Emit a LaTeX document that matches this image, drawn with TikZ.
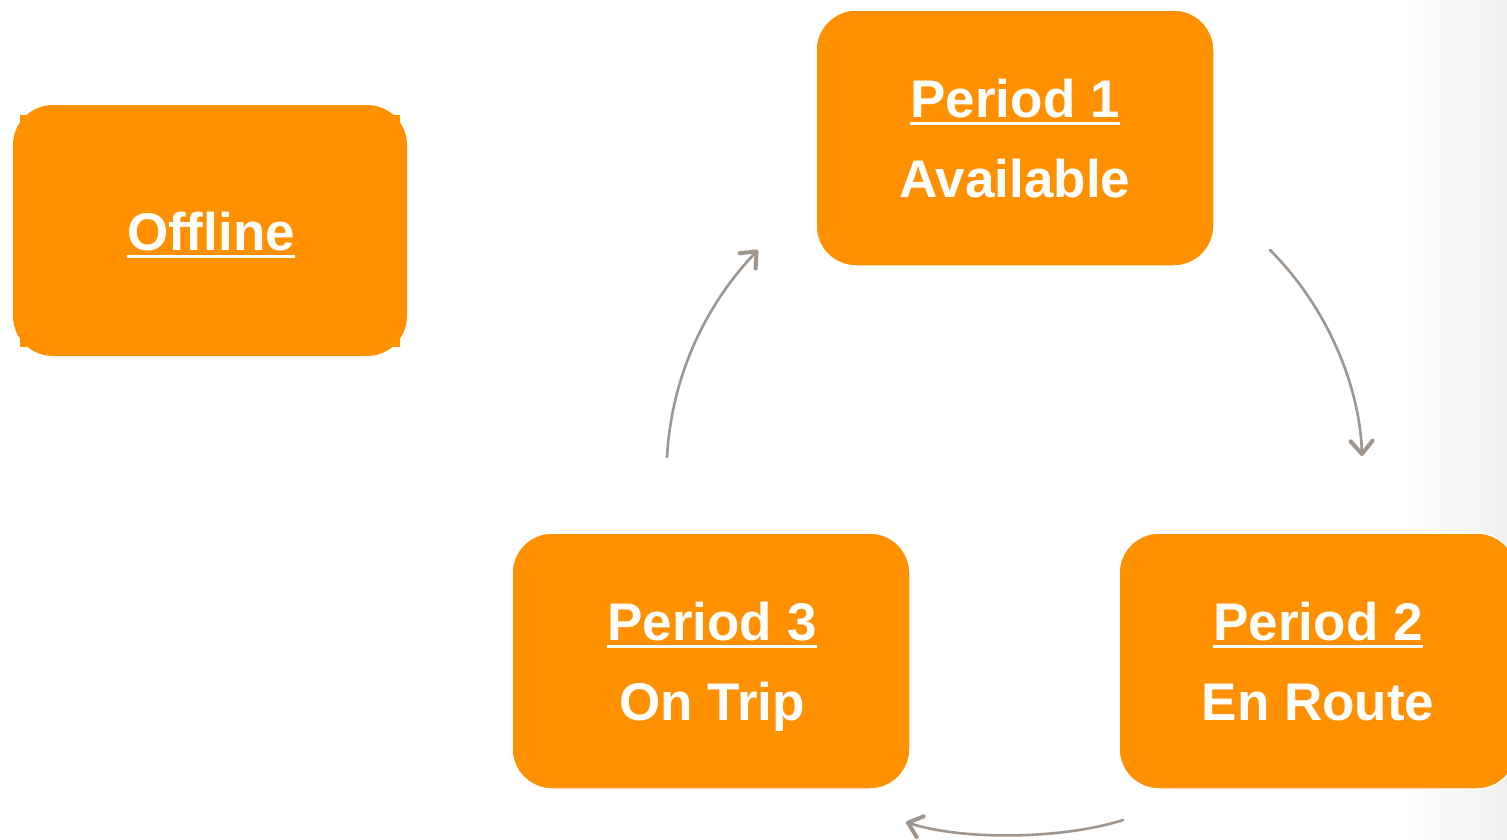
\documentclass[tikz,border=0pt]{standalone}
\usepackage{fontspec}
\setmainfont{Liberation Sans}
\usetikzlibrary{arrows.meta}
\definecolor{boxorange}{RGB}{255,145,0}
\definecolor{arrowgray}{RGB}{160,150,142}
\newcommand\myul[1]{\setbox0\hbox{#1}\rlap{\rule[-8pt]{\wd0}{3pt}}\box0}
\tikzset{
  statebox/.style={fill=boxorange, draw=white, line width=1.5pt, rounded corners=40pt,
    minimum width=398pt, minimum height=256pt, inner sep=0pt},
  boxtext/.style={text=white, font=\fontsize{53}{60}\selectfont\bfseries, anchor=base, inner sep=0pt},
  flow/.style={draw=arrowgray, line width=2.6pt, line cap=round,
    -{Straight Barb[length=13pt,width=22pt,line width=4pt,round]}}
}
\begin{document}
\begin{tikzpicture}[x=1pt,y=-1pt]
\clip (0,0) rectangle (1507,839);
\fill[white] (0,0) rectangle (1507,839);
\shade[left color=white, right color=black!6] (1400,0) rectangle (1507,839);

% Offline box with corner tabs
\fill[boxorange] (20,115) rectangle (400,347);
\node[statebox, draw=none, minimum width=394pt, minimum height=251pt] (off) at (210,230.5) {};
\node[boxtext] (offt) at (211,250) {\myul{Offline}};

% Period boxes
\node[statebox] (p1) at (1015,138) {};
\node[boxtext] (p1a) at (1015,117) {\myul{Period 1}};
\node[boxtext] (p1b) at (1015,197) {Available};

\node[statebox] (p3) at (711,661) {};
\node[boxtext] (p3a) at (712,640) {\myul{Period 3}};
\node[boxtext] (p3b) at (712,720) {On Trip};

\node[statebox] (p2) at (1318,661) {};
\node[boxtext] (p2a) at (1318,640) {\myul{Period 2}};
\node[boxtext] (p2b) at (1318,720) {En Route};

% connector end points
\coordinate (a1s) at (1270,250);
\coordinate (a1e) at (1362,456);
\coordinate (a2s) at (1123,820);
\coordinate (a2e) at (906,822);
\coordinate (a3s) at (667,457);
\coordinate (a3e) at (758,250);

\draw[flow] (a1s) .. controls (1330,310) and (1360,390) .. (a1e);
\draw[flow] (a2s) .. controls (1060,840) and (960,840) .. (a2e);
\draw[flow] (a3s) .. controls (672,370) and (710,300) .. (a3e);
\end{tikzpicture}
\end{document}
